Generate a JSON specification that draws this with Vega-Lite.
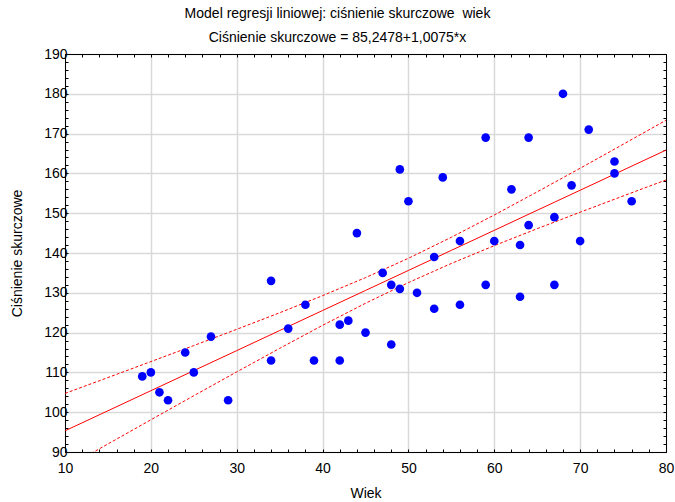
{
  "$schema": "https://vega.github.io/schema/vega-lite/v6.json",
  "width": 601,
  "height": 398,
  "autosize": "none",
  "padding": {"left": 65, "top": 54, "right": 9, "bottom": 50},
  "background": "#ffffff",
  "title": {
    "text": "Model regresji liniowej: ciśnienie skurczowe\u00a0 wiek",
    "subtitle": "Ciśnienie skurczowe = 85,2478+1,0075*x",
    "font": "Liberation Sans",
    "fontSize": 14,
    "fontWeight": "normal",
    "color": "#000000",
    "subtitleFont": "Liberation Sans",
    "subtitleFontSize": 14,
    "subtitleColor": "#000000",
    "subtitlePadding": 10,
    "anchor": "middle",
    "dx": -28,
    "offset": 2
  },
  "config": {
    "view": {"stroke": "#000000", "strokeWidth": 1},
    "axis": {
      "labelFont": "Liberation Sans",
      "labelFontSize": 14,
      "labelColor": "#000000",
      "labelFlush": false,
      "titleFont": "Liberation Sans",
      "titleFontSize": 14,
      "titleFontWeight": "normal",
      "titleColor": "#000000",
      "domainColor": "#000000",
      "tickColor": "#000000",
      "gridColor": "#d9d9d9",
      "gridWidth": 1.5,
      "gridOpacity": 1
    }
  },
  "datasets": {
    "pts": [
      {"wiek": 19, "cis": 109}, {"wiek": 20, "cis": 110}, {"wiek": 21, "cis": 105}, {"wiek": 22, "cis": 103},
      {"wiek": 24, "cis": 115}, {"wiek": 25, "cis": 110}, {"wiek": 27, "cis": 119}, {"wiek": 29, "cis": 103},
      {"wiek": 34, "cis": 133}, {"wiek": 34, "cis": 113}, {"wiek": 36, "cis": 121}, {"wiek": 38, "cis": 127},
      {"wiek": 39, "cis": 113}, {"wiek": 42, "cis": 122}, {"wiek": 42, "cis": 113}, {"wiek": 43, "cis": 123},
      {"wiek": 44, "cis": 145}, {"wiek": 45, "cis": 120}, {"wiek": 47, "cis": 135}, {"wiek": 48, "cis": 132},
      {"wiek": 48, "cis": 117}, {"wiek": 49, "cis": 161}, {"wiek": 49, "cis": 131}, {"wiek": 50, "cis": 153},
      {"wiek": 51, "cis": 130}, {"wiek": 53, "cis": 139}, {"wiek": 53, "cis": 126}, {"wiek": 54, "cis": 159},
      {"wiek": 56, "cis": 143}, {"wiek": 56, "cis": 127}, {"wiek": 59, "cis": 169}, {"wiek": 59, "cis": 132},
      {"wiek": 60, "cis": 143}, {"wiek": 62, "cis": 156}, {"wiek": 63, "cis": 142}, {"wiek": 63, "cis": 129},
      {"wiek": 64, "cis": 169}, {"wiek": 64, "cis": 147}, {"wiek": 67, "cis": 149}, {"wiek": 67, "cis": 132},
      {"wiek": 68, "cis": 180}, {"wiek": 69, "cis": 157}, {"wiek": 70, "cis": 143}, {"wiek": 71, "cis": 171},
      {"wiek": 74, "cis": 163}, {"wiek": 74, "cis": 160}, {"wiek": 76, "cis": 153}
    ],
    "fit": [
      {"wiek": 10, "fit": 95.32, "upper": 104.72, "lower": 85.92},
      {"wiek": 15, "fit": 100.36, "upper": 108.70, "lower": 92.02},
      {"wiek": 20, "fit": 105.40, "upper": 112.71, "lower": 98.09},
      {"wiek": 25, "fit": 110.44, "upper": 116.74, "lower": 104.14},
      {"wiek": 30, "fit": 115.47, "upper": 120.82, "lower": 110.12},
      {"wiek": 35, "fit": 120.51, "upper": 124.98, "lower": 116.04},
      {"wiek": 40, "fit": 125.55, "upper": 129.28, "lower": 121.82},
      {"wiek": 45, "fit": 130.59, "upper": 133.81, "lower": 127.37},
      {"wiek": 50, "fit": 135.62, "upper": 138.67, "lower": 132.57},
      {"wiek": 55, "fit": 140.66, "upper": 143.95, "lower": 137.37},
      {"wiek": 60, "fit": 145.70, "upper": 149.55, "lower": 141.85},
      {"wiek": 65, "fit": 150.74, "upper": 155.37, "lower": 146.11},
      {"wiek": 70, "fit": 155.77, "upper": 161.29, "lower": 150.25},
      {"wiek": 75, "fit": 160.81, "upper": 167.30, "lower": 154.32},
      {"wiek": 80, "fit": 165.85, "upper": 173.35, "lower": 158.35}
    ]
  },
  "resolve": {"axis": {"x": "independent", "y": "independent"}},
  "layer": [
    {
      "data": {"name": "fit"},
      "mark": {"type": "line", "color": "#ff0000", "strokeWidth": 1, "clip": true},
      "encoding": {
        "x": {"field": "wiek", "type": "quantitative", "scale": {"domain": [10, 80], "nice": false, "zero": false},
          "axis": {"orient": "bottom", "values": [10, 20, 30, 40, 50, 60, 70, 80], "grid": true, "ticks": false, "labels": false, "domain": false, "title": null}},
        "y": {"field": "fit", "type": "quantitative", "scale": {"domain": [90, 190], "nice": false, "zero": false},
          "axis": {"orient": "left", "values": [90, 100, 110, 120, 130, 140, 150, 160, 170, 180, 190], "grid": true, "ticks": false, "labels": false, "domain": false, "title": null}}
      }
    },
    {
      "data": {"name": "fit"},
      "mark": {"type": "line", "color": "#ff0000", "strokeWidth": 1, "strokeDash": [3, 2], "clip": true},
      "encoding": {
        "x": {"field": "wiek", "type": "quantitative",
          "axis": {"orient": "top", "values": [10, 12, 14, 16, 18, 20, 22, 24, 26, 28, 30, 32, 34, 36, 38, 40, 42, 44, 46, 48, 50, 52, 54, 56, 58, 60, 62, 64, 66, 68, 70, 72, 74, 76, 78, 80], "grid": false, "labels": false, "tickSize": -3, "title": null}},
        "y": {"field": "upper", "type": "quantitative",
          "axis": {"orient": "right", "values": [90, 92, 94, 96, 98, 100, 102, 104, 106, 108, 110, 112, 114, 116, 118, 120, 122, 124, 126, 128, 130, 132, 134, 136, 138, 140, 142, 144, 146, 148, 150, 152, 154, 156, 158, 160, 162, 164, 166, 168, 170, 172, 174, 176, 178, 180, 182, 184, 186, 188, 190], "grid": false, "labels": false, "tickSize": -3, "title": null}}
      }
    },
    {
      "data": {"name": "fit"},
      "mark": {"type": "line", "color": "#ff0000", "strokeWidth": 1, "strokeDash": [3, 2], "clip": true},
      "encoding": {
        "x": {"field": "wiek", "type": "quantitative", "axis": null},
        "y": {"field": "lower", "type": "quantitative", "axis": null}
      }
    },
    {
      "data": {"name": "pts"},
      "mark": {"type": "circle", "color": "#0000ff", "opacity": 1, "size": 75},
      "encoding": {
        "x": {"field": "wiek", "type": "quantitative", "title": "Wiek",
          "axis": {"orient": "bottom", "values": [10, 12, 14, 16, 18, 20, 22, 24, 26, 28, 30, 32, 34, 36, 38, 40, 42, 44, 46, 48, 50, 52, 54, 56, 58, 60, 62, 64, 66, 68, 70, 72, 74, 76, 78, 80], "grid": false, "tickSize": -3, "labelPadding": 12, "labelExpr": "datum.value % 10 === 0 ? datum.label : ''", "titlePadding": 11}},
        "y": {"field": "cis", "type": "quantitative", "title": "Ciśnienie skurczowe",
          "axis": {"orient": "left", "values": [90, 92, 94, 96, 98, 100, 102, 104, 106, 108, 110, 112, 114, 116, 118, 120, 122, 124, 126, 128, 130, 132, 134, 136, 138, 140, 142, 144, 146, 148, 150, 152, 154, 156, 158, 160, 162, 164, 166, 168, 170, 172, 174, 176, 178, 180, 182, 184, 186, 188, 190], "grid": false, "tickSize": -3, "labelPadding": 1, "labelExpr": "datum.value % 10 === 0 ? datum.label : ''", "titlePadding": 19}}
      }
    }
  ]
}
